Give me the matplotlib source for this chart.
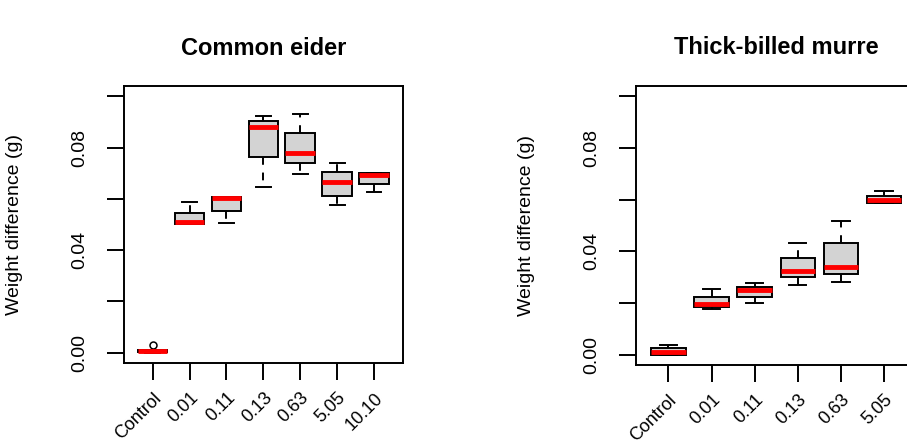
import matplotlib
matplotlib.use('Agg')
import matplotlib.pyplot as plt
from matplotlib import transforms

plt.rcParams['font.family'] = ['Liberation Sans', 'DejaVu Sans']

# Dados (diferença de peso em g)
categorias_eider = ['Control', '0.01', '0.11', '0.13', '0.63', '5.05', '10.10']
eider_min = [0.0000, 0.0501, 0.0507, 0.0647, 0.0696, 0.0576, 0.0627]
eider_q1 = [0.0002, 0.0501, 0.0552, 0.0763, 0.0740, 0.0612, 0.0657]
eider_med = [0.0006, 0.0511, 0.0602, 0.0880, 0.0779, 0.0666, 0.0692]
eider_q3 = [0.0009, 0.0546, 0.0609, 0.0904, 0.0856, 0.0704, 0.0701]
eider_max = [0.0011, 0.0589, 0.0609, 0.0924, 0.0932, 0.0741, 0.0701]
eider_outliers = [[0.0029], [], [], [], [], [], []]

categorias_murre = ['Control', '0.01', '0.11', '0.13', '0.63', '5.05']
murre_min = [0.0000, 0.0175, 0.0200, 0.0268, 0.0283, 0.0586]
murre_q1 = [0.0000, 0.0185, 0.0224, 0.0299, 0.0312, 0.0586]
murre_med = [0.0010, 0.0198, 0.0249, 0.0325, 0.0338, 0.0599]
murre_q3 = [0.0025, 0.0224, 0.0262, 0.0374, 0.0432, 0.0615]
murre_max = [0.0037, 0.0256, 0.0276, 0.0432, 0.0519, 0.0634]
murre_outliers = [[], [], [], [], [], []]

y_ticks = [0.0, 0.02, 0.04, 0.06, 0.08, 0.10]
y_labels = ['0.00', '', '0.04', '', '0.08', '']

DPI = 100
fig = plt.figure(figsize=(9.07, 4.44), dpi=DPI)


# Função que desenha um painel no estilo boxplot do R
def desenhar_painel(ax, titulo, cats, mins, q1s, meds, q3s, maxs, outs):
    stats = []
    for i in range(len(cats)):
        stats.append(dict(med=meds[i], q1=q1s[i], q3=q3s[i],
                          whislo=mins[i], whishi=maxs[i], fliers=outs[i]))
    n = len(cats)
    pos = list(range(1, n + 1))
    ax.bxp(stats, positions=pos, widths=0.8, capwidths=0.4, patch_artist=True,
           boxprops=dict(facecolor='#D3D3D3', edgecolor='black', linewidth=1.4),
           medianprops=dict(color='red', linewidth=3.5, solid_capstyle='butt'),
           whiskerprops=dict(color='black', linewidth=1.4, linestyle=(0, (4, 4))),
           capprops=dict(color='black', linewidth=1.4),
           flierprops=dict(marker='o', markerfacecolor='none',
                           markeredgecolor='black', markersize=5, markeredgewidth=1.1))
    ext = 0.04 * n
    ax.set_xlim(0.5 - ext, n + 0.5 + ext)
    ax.set_ylim(-0.004, 0.104)

    ax.set_yticks(y_ticks)
    ax.set_yticklabels(y_labels, rotation=90, va='center')
    ax.set_xticks(pos)
    ax.set_xticklabels(cats, rotation=45, ha='right', va='top',
                       rotation_mode='anchor', fontsize=13)
    desloc = transforms.ScaledTranslation(7 / DPI, 0, fig.dpi_scale_trans)
    for lab in ax.get_xticklabels():
        lab.set_transform(lab.get_transform() + desloc)
    ax.tick_params(axis='both', direction='out', length=12, width=1.4,
                   color='black')
    ax.tick_params(axis='y', pad=14, labelsize=14)
    ax.tick_params(axis='x', pad=7)
    for s in ax.spines.values():
        s.set_linewidth(1.4)
        s.set_color('black')

    ax.set_ylabel('Weight difference (g)', fontsize=14)
    ax.yaxis.set_label_coords(-0.362, 0.5)
    ax.text(0.5, 1 + 38 / 277, titulo, transform=ax.transAxes, ha='center',
            va='center', fontsize=17, fontweight='bold')


# Painel esquerdo: Common eider
ax1 = fig.add_axes([0.1366, 0.1824, 0.3075, 0.6239])
desenhar_painel(ax1, 'Common eider', categorias_eider, eider_min, eider_q1,
                eider_med, eider_q3, eider_max, eider_outliers)

# Painel direito: Thick-billed murre (cortado na borda direita, como no original)
ax2 = fig.add_axes([0.7017, 0.1779, 0.3082, 0.6284])
desenhar_painel(ax2, 'Thick-billed murre', categorias_murre, murre_min, murre_q1,
                murre_med, murre_q3, murre_max, murre_outliers)

fig.savefig('out.png', dpi=DPI)
